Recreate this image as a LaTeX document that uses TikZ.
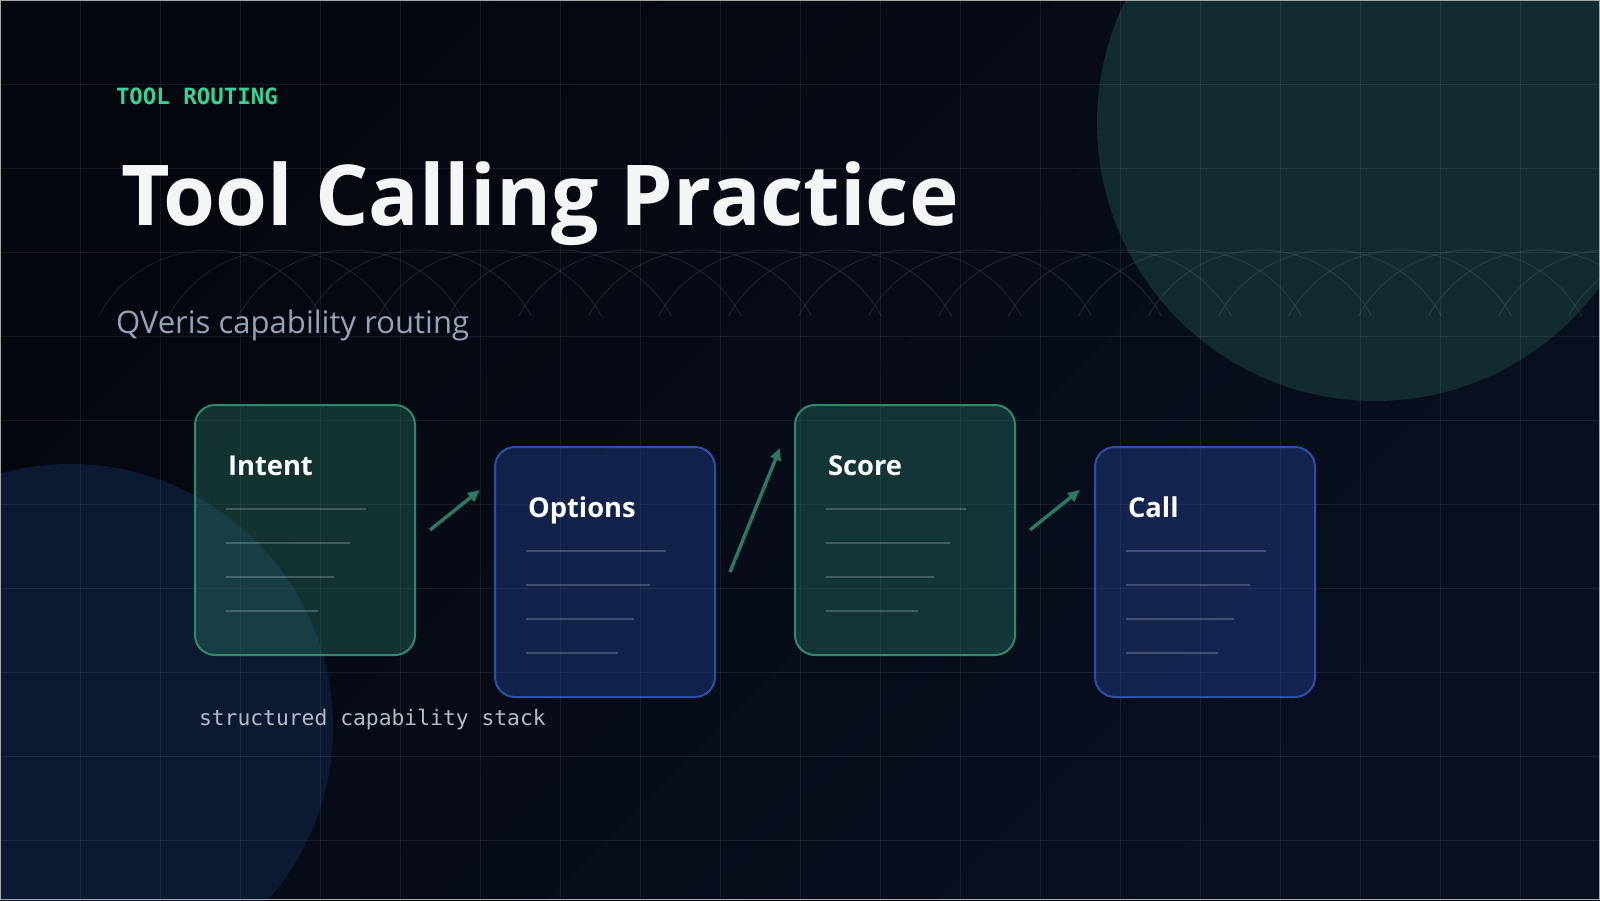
\documentclass[tikz,border=0pt]{standalone}
\usepackage{fontspec}
\setmainfont{Open Sans}
\setmonofont{DejaVu Sans Mono}
\usetikzlibrary{positioning,arrows.meta,calc}
\definecolor{bgdark}{HTML}{04070D}
\definecolor{bgnavy}{HTML}{091022}
\definecolor{tealglow}{HTML}{112B31}
\definecolor{blueglow}{HTML}{0C1932}
\definecolor{cardgreen}{HTML}{2A7866}
\definecolor{edgegreen}{HTML}{2E8A6B}
\definecolor{cardblue}{HTML}{2848A0}
\definecolor{edgeblue}{HTML}{2D50A6}
\definecolor{flowgreen}{HTML}{2A7A60}
\definecolor{kickgreen}{HTML}{34D399}
\definecolor{subtext}{HTML}{94A3B8}
\definecolor{monotext}{HTML}{B4BCC8}
\definecolor{titlewhite}{HTML}{F5F5F5}
\tikzset{
    every node/.style={inner sep=0pt,outer sep=0pt},
    gridline/.style={draw=white,draw opacity=0.07,line width=0.75pt},
    arcline/.style={draw=white,draw opacity=0.09,line width=0.75pt},
    card/.style={rounded corners=15pt,line width=1.5pt,minimum width=165pt,minimum height=187.5pt,fill opacity=0.38},
    cardtitle/.style={anchor=base west,text=white,font=\bfseries\fontsize{20.5}{24}\selectfont},
    cardline/.style={draw=white,draw opacity=0.2,line width=1.5pt},
    flow/.style={draw=flowgreen,line width=2.6pt,-{Triangle[length=9pt,width=8pt]}}
}
\begin{document}
\begin{tikzpicture}[x=0.75pt,y=0.75pt]
\useasboundingbox (0,0) rectangle (1600,-900);
\clip (0,0) rectangle (1600,-900);
% background and glows
\shade[top color=bgdark,bottom color=bgnavy,shading angle=45] (0,0) rectangle (1600,-900);
\fill[tealglow] (1375,-123) circle (278);
\fill[blueglow] (70,-727) circle (263);
\foreach \gx in {80,160,...,1520}
    \draw[gridline] (\gx,0) -- (\gx,-900);
\foreach \gy in {84,168,...,840}
    \draw[gridline] (0,-\gy) -- (1600,-\gy);
\begin{scope}
    \clip (0,-245) rectangle (1600,-315);
    \foreach \k in {3,...,24}
        \draw[arcline] (70*\k,-377) circle (127);
\end{scope}
% headings
\node[anchor=base west,text=kickgreen,font=\ttfamily\bfseries\fontsize{16.8}{20}\selectfont] (kicker) at (116,-104) {TOOL ROUTING};
\node[anchor=base west,text=titlewhite,font=\bfseries\fontsize{63}{70}\selectfont] (title) at (121,-225) {Tool Calling Practice};
\node[anchor=base west,text=subtext,font=\fontsize{23.3}{28}\selectfont] (subtitle) at (116,-333) {QVeris capability routing};
% cards
\foreach \cardname/\txt/\col/\cx/\cy in {intent/Intent/green/305/530,options/Options/blue/605/572,score/Score/green/905/530,call/Call/blue/1205/572}{
    \node[card,draw=edge\col,fill=card\col] (\cardname) at (\cx,-\cy) {};
    \node[cardtitle] at ($(\cardname.north west)+(33,-70)$) {\txt};
    \foreach \j/\len in {0/140,1/124,2/108,3/92}
        \draw[cardline] ($(\cardname.north west)+(31,-104-34*\j)$) -- ++(\len,0);
}
\draw[flow] ($(intent.east)+(15,0)$) -- ($(options.west)+(-15,82)$);
\draw[flow] ($(options.east)+(15,0)$) -- ($(score.west)+(-15,82)$);
\draw[flow] ($(score.east)+(15,0)$) -- ($(call.west)+(-15,82)$);
\node[anchor=base west,text=monotext,font=\ttfamily\fontsize{16}{19}\selectfont] (caption) at (199,-725) {structured capability stack};
% frame
\draw[gray!70,line width=0.75pt] (0.5,-0.5) rectangle (1599.5,-899.5);
\end{tikzpicture}
\end{document}
